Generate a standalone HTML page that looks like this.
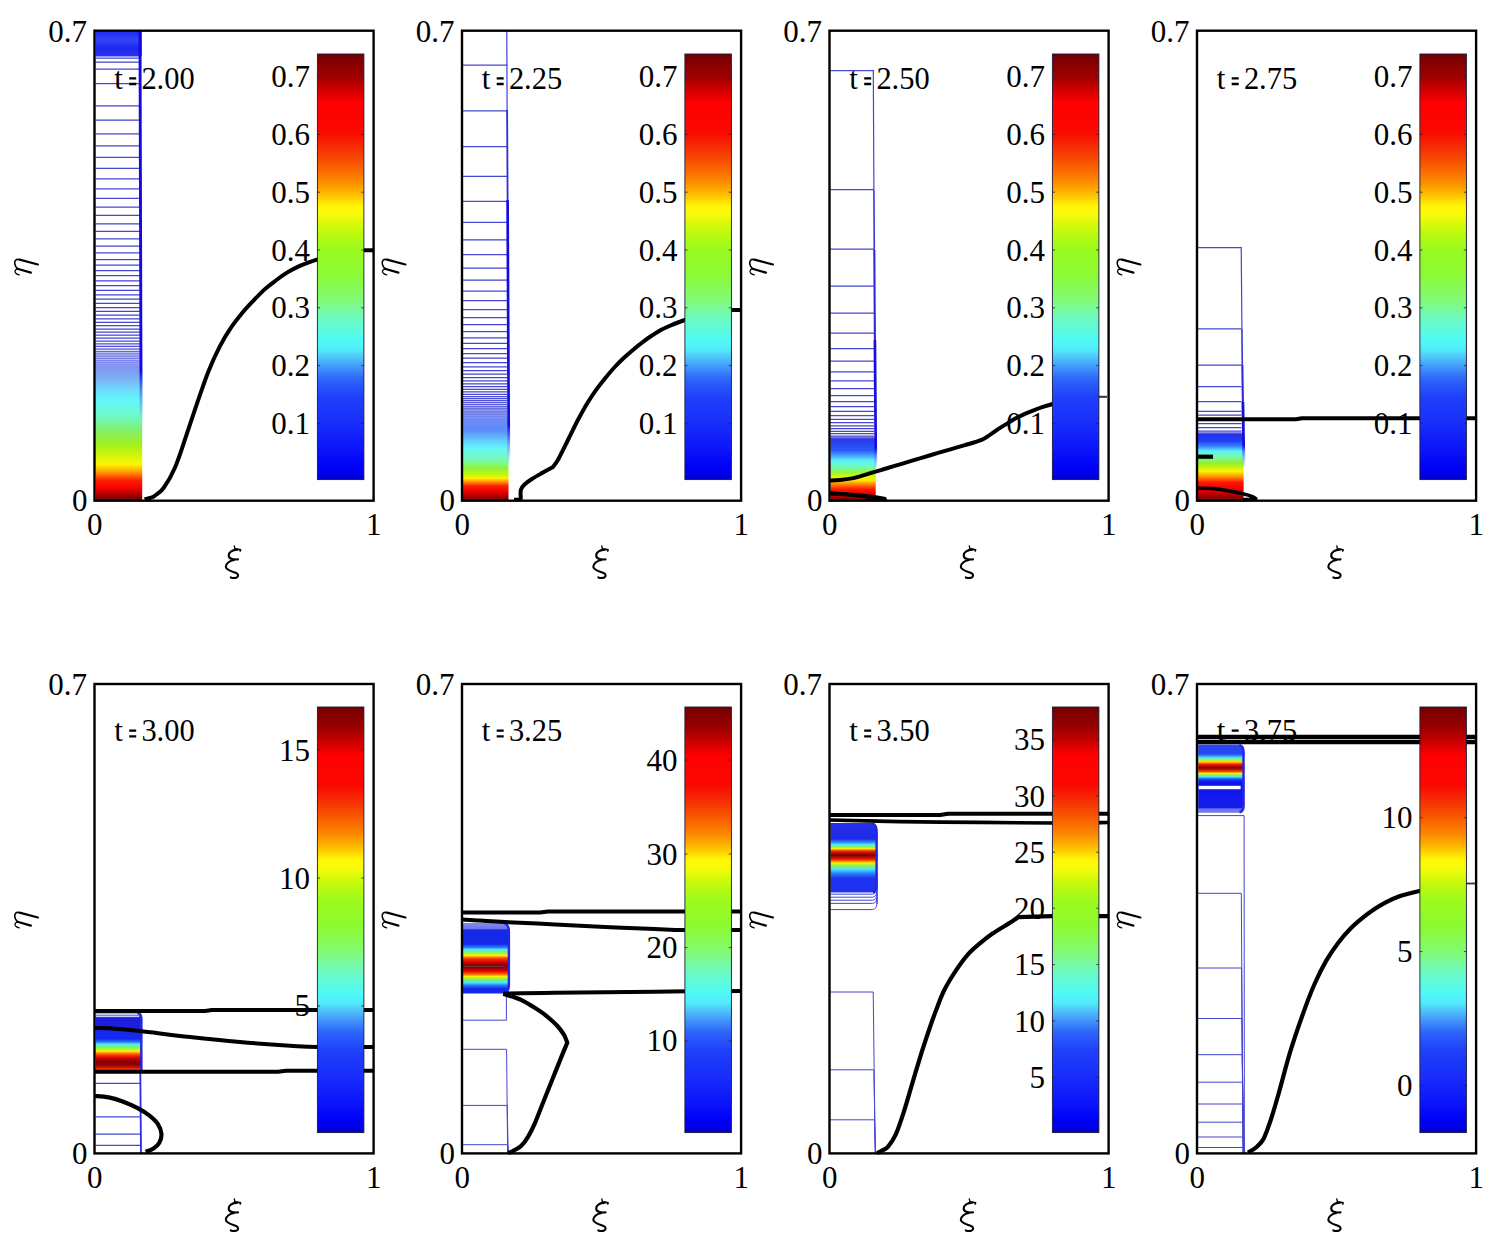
<!DOCTYPE html>
<html><head><meta charset="utf-8"><title>figure</title>
<style>
html,body{margin:0;padding:0;background:#fff;}
body{width:1498px;height:1248px;overflow:hidden;}
svg{display:block;font-family:"Liberation Serif",serif;fill:#000;}
</style></head><body>
<svg width="1498" height="1248" viewBox="0 0 1498 1248">
<defs>
<linearGradient id="cb" x1="0" y1="1" x2="0" y2="0"><stop offset="0.000" stop-color="#0000be"/><stop offset="0.012" stop-color="#0000eb"/><stop offset="0.028" stop-color="#0000f6"/><stop offset="0.069" stop-color="#0a14fa"/><stop offset="0.131" stop-color="#192dfa"/><stop offset="0.194" stop-color="#1e41fa"/><stop offset="0.235" stop-color="#2d64fa"/><stop offset="0.264" stop-color="#4196fa"/><stop offset="0.289" stop-color="#50c8fa"/><stop offset="0.305" stop-color="#50ebfa"/><stop offset="0.330" stop-color="#50faf5"/><stop offset="0.380" stop-color="#6efabe"/><stop offset="0.422" stop-color="#82fa78"/><stop offset="0.483" stop-color="#8cfa32"/><stop offset="0.542" stop-color="#9bfa1e"/><stop offset="0.575" stop-color="#b9fa0f"/><stop offset="0.600" stop-color="#d7fa0a"/><stop offset="0.625" stop-color="#fafa0a"/><stop offset="0.642" stop-color="#fff505"/><stop offset="0.670" stop-color="#fdbe00"/><stop offset="0.699" stop-color="#fc8c00"/><stop offset="0.740" stop-color="#f85a00"/><stop offset="0.777" stop-color="#f53205"/><stop offset="0.814" stop-color="#fa0a00"/><stop offset="0.885" stop-color="#ff0000"/><stop offset="0.914" stop-color="#d20000"/><stop offset="0.947" stop-color="#a00000"/><stop offset="1.000" stop-color="#730000"/></linearGradient>
<linearGradient id="g1" gradientUnits="userSpaceOnUse" x1="0" y1="31.00" x2="0" y2="56.00"><stop offset="0.0000" stop-color="#1e28eb"/><stop offset="0.3600" stop-color="#3246f5"/><stop offset="0.6800" stop-color="#1e28ee"/><stop offset="1.0000" stop-color="#2832eb"/></linearGradient>
<linearGradient id="g2" gradientUnits="userSpaceOnUse" x1="0" y1="344.00" x2="0" y2="500.00"><stop offset="0.0000" stop-color="#a0aaf5" stop-opacity="0.00"/><stop offset="0.0769" stop-color="#96a0f3" stop-opacity="0.55"/><stop offset="0.1538" stop-color="#8296f0"/><stop offset="0.2308" stop-color="#78b4f5"/><stop offset="0.2949" stop-color="#6edcfa"/><stop offset="0.3590" stop-color="#64f5fa"/><stop offset="0.4615" stop-color="#6efac8"/><stop offset="0.5513" stop-color="#82f06e"/><stop offset="0.6410" stop-color="#a0f01e"/><stop offset="0.7179" stop-color="#d2f50a"/><stop offset="0.7718" stop-color="#fff500"/><stop offset="0.8231" stop-color="#ff9600"/><stop offset="0.8744" stop-color="#ff1e00"/><stop offset="0.9263" stop-color="#f00000"/><stop offset="0.9776" stop-color="#960000"/><stop offset="1.0000" stop-color="#6e0000"/></linearGradient>
<linearGradient id="g3" gradientUnits="userSpaceOnUse" x1="0" y1="31.00" x2="0" y2="420.00"><stop offset="0.0000" stop-color="#1608de"/><stop offset="0.8715" stop-color="#1608de"/><stop offset="0.9357" stop-color="#3c78f5" stop-opacity="0.60"/><stop offset="1.0000" stop-color="#3c78f5" stop-opacity="0.00"/></linearGradient>
<linearGradient id="g4" gradientUnits="userSpaceOnUse" x1="0" y1="398.00" x2="0" y2="500.00"><stop offset="0.0000" stop-color="#a0aaf5" stop-opacity="0.00"/><stop offset="0.1176" stop-color="#8c9bf3" stop-opacity="0.55"/><stop offset="0.2157" stop-color="#6e8cf5"/><stop offset="0.3137" stop-color="#5a8cfa"/><stop offset="0.4118" stop-color="#64c8fa"/><stop offset="0.4902" stop-color="#64f5fa"/><stop offset="0.6078" stop-color="#78fab4"/><stop offset="0.6863" stop-color="#8cf53c"/><stop offset="0.7549" stop-color="#c8f50a"/><stop offset="0.7882" stop-color="#fff000"/><stop offset="0.8235" stop-color="#ff8c00"/><stop offset="0.8627" stop-color="#ff1e00"/><stop offset="0.9216" stop-color="#e60000"/><stop offset="0.9853" stop-color="#8c0000"/><stop offset="1.0000" stop-color="#780000"/></linearGradient>
<linearGradient id="g5" gradientUnits="userSpaceOnUse" x1="0" y1="200.00" x2="0" y2="465.00"><stop offset="0.0000" stop-color="#160cde"/><stop offset="0.8491" stop-color="#160cde"/><stop offset="0.9245" stop-color="#3c78f5" stop-opacity="0.60"/><stop offset="1.0000" stop-color="#3ca0f5" stop-opacity="0.00"/></linearGradient>
<linearGradient id="g6" gradientUnits="userSpaceOnUse" x1="0" y1="436.00" x2="0" y2="500.00"><stop offset="0.0000" stop-color="#2832ec" stop-opacity="0.00"/><stop offset="0.0469" stop-color="#2837ee"/><stop offset="0.2250" stop-color="#285afa"/><stop offset="0.3031" stop-color="#46a0fa"/><stop offset="0.3812" stop-color="#5af0fa"/><stop offset="0.4750" stop-color="#6efabe"/><stop offset="0.5687" stop-color="#96f53c"/><stop offset="0.6469" stop-color="#e6f500"/><stop offset="0.6937" stop-color="#ffe600"/><stop offset="0.7562" stop-color="#ff8200"/><stop offset="0.8344" stop-color="#ff1400"/><stop offset="0.9125" stop-color="#dc0000"/><stop offset="0.9766" stop-color="#8c0000"/><stop offset="1.0000" stop-color="#780000"/></linearGradient>
<linearGradient id="g7" gradientUnits="userSpaceOnUse" x1="0" y1="340.00" x2="0" y2="470.00"><stop offset="0.0000" stop-color="#160cde"/><stop offset="0.8308" stop-color="#160cde"/><stop offset="0.9077" stop-color="#3c78f5" stop-opacity="0.60"/><stop offset="1.0000" stop-color="#3ca0f5" stop-opacity="0.00"/></linearGradient>
<linearGradient id="g8" gradientUnits="userSpaceOnUse" x1="0" y1="432.00" x2="0" y2="500.00"><stop offset="0.0000" stop-color="#2832eb" stop-opacity="0.00"/><stop offset="0.0338" stop-color="#2832eb"/><stop offset="0.1324" stop-color="#1e3cfa"/><stop offset="0.2147" stop-color="#3c8cfa"/><stop offset="0.2794" stop-color="#5af0fa"/><stop offset="0.3632" stop-color="#78faaa"/><stop offset="0.4632" stop-color="#96f028"/><stop offset="0.5779" stop-color="#faf500"/><stop offset="0.6618" stop-color="#ff8c00"/><stop offset="0.7441" stop-color="#ff1400"/><stop offset="0.8588" stop-color="#e60000"/><stop offset="0.9750" stop-color="#8c0000"/><stop offset="1.0000" stop-color="#780000"/></linearGradient>
<linearGradient id="g9" gradientUnits="userSpaceOnUse" x1="0" y1="402.00" x2="0" y2="468.00"><stop offset="0.0000" stop-color="#160cde"/><stop offset="0.6515" stop-color="#160cde"/><stop offset="0.8030" stop-color="#3c78f5" stop-opacity="0.60"/><stop offset="1.0000" stop-color="#3ca0f5" stop-opacity="0.00"/></linearGradient>
<linearGradient id="g10" gradientUnits="userSpaceOnUse" x1="0" y1="1012.50" x2="0" y2="1070.50"><stop offset="0.0000" stop-color="#96a0f5"/><stop offset="0.0603" stop-color="#7882f0"/><stop offset="0.0862" stop-color="#1e1ede"/><stop offset="0.2586" stop-color="#1e1ee1"/><stop offset="0.3328" stop-color="#1428f0"/><stop offset="0.4569" stop-color="#1428f2"/><stop offset="0.5086" stop-color="#2878fa"/><stop offset="0.5431" stop-color="#50e6fa"/><stop offset="0.6069" stop-color="#82f550"/><stop offset="0.6690" stop-color="#fff000"/><stop offset="0.7190" stop-color="#ff5000"/><stop offset="0.7810" stop-color="#dc0000"/><stop offset="0.8552" stop-color="#7d0000"/><stop offset="0.9052" stop-color="#960000"/><stop offset="0.9552" stop-color="#e11400"/><stop offset="1.0000" stop-color="#fa5a00"/></linearGradient>
<linearGradient id="g11" gradientUnits="userSpaceOnUse" x1="0" y1="923.00" x2="0" y2="993.50"><stop offset="0.0000" stop-color="#828ceb"/><stop offset="0.0780" stop-color="#6e78eb"/><stop offset="0.0993" stop-color="#1428e6"/><stop offset="0.2979" stop-color="#1428e8"/><stop offset="0.3475" stop-color="#2882fa"/><stop offset="0.3759" stop-color="#50e6fa"/><stop offset="0.4227" stop-color="#8cf550"/><stop offset="0.4610" stop-color="#fff000"/><stop offset="0.5021" stop-color="#ff3c00"/><stop offset="0.5504" stop-color="#dc0000"/><stop offset="0.6142" stop-color="#690000"/><stop offset="0.6780" stop-color="#dc0000"/><stop offset="0.7262" stop-color="#ff6400"/><stop offset="0.7574" stop-color="#faf000"/><stop offset="0.7986" stop-color="#82f550"/><stop offset="0.8440" stop-color="#50e6fa"/><stop offset="0.8851" stop-color="#2878fa"/><stop offset="0.9319" stop-color="#1428eb"/><stop offset="1.0000" stop-color="#1428eb"/></linearGradient>
<linearGradient id="g12" gradientUnits="userSpaceOnUse" x1="0" y1="823.00" x2="0" y2="893.00"><stop offset="0.0000" stop-color="#2832eb"/><stop offset="0.2257" stop-color="#1e28e8"/><stop offset="0.2714" stop-color="#2882fa"/><stop offset="0.3071" stop-color="#50e6fa"/><stop offset="0.3429" stop-color="#8cf550"/><stop offset="0.3671" stop-color="#fff000"/><stop offset="0.4000" stop-color="#fa1e00"/><stop offset="0.4600" stop-color="#730000"/><stop offset="0.5214" stop-color="#fa1e00"/><stop offset="0.5714" stop-color="#fff000"/><stop offset="0.6100" stop-color="#82f550"/><stop offset="0.6571" stop-color="#50e6fa"/><stop offset="0.7257" stop-color="#2878fa"/><stop offset="0.7914" stop-color="#1e32f0"/><stop offset="0.9857" stop-color="#1e32f0"/><stop offset="1.0000" stop-color="#3c46f0" stop-opacity="0.00"/></linearGradient>
<linearGradient id="g13" gradientUnits="userSpaceOnUse" x1="0" y1="744.50" x2="0" y2="812.80"><stop offset="0.0000" stop-color="#3c50f0"/><stop offset="0.0220" stop-color="#2846f0"/><stop offset="0.1362" stop-color="#2846f2"/><stop offset="0.1684" stop-color="#3296fa"/><stop offset="0.1947" stop-color="#50ebfa"/><stop offset="0.2269" stop-color="#aaf532"/><stop offset="0.2518" stop-color="#ffdc00"/><stop offset="0.2928" stop-color="#f51400"/><stop offset="0.3411" stop-color="#7d0000"/><stop offset="0.3909" stop-color="#fa3200"/><stop offset="0.4246" stop-color="#fff000"/><stop offset="0.4466" stop-color="#82f550"/><stop offset="0.4729" stop-color="#50e6fa"/><stop offset="0.5051" stop-color="#1e50fa"/><stop offset="0.5476" stop-color="#0a14f0"/><stop offset="0.9253" stop-color="#141eeb"/><stop offset="0.9444" stop-color="#6e78f0"/><stop offset="1.0000" stop-color="#6e78f0"/></linearGradient>
</defs>
<rect width="1498" height="1248" fill="#fff"/>
<rect x="95.5" y="31" width="46.3" height="25.5" fill="url(#g1)"/>
<path d="M95.5 58.0H141.0M95.5 62.0H141.0M95.5 69.0H141.0M95.5 83.7H141.0M95.5 105.8H141.0M95.5 120.2H141.0M95.5 133.8H141.0M95.5 145.8H141.0M95.5 157.3H141.0M95.5 168.3H141.0M95.5 178.9H141.0M95.5 188.9H141.0M95.5 198.3H141.0M95.5 207.0H141.0M95.5 215.4H141.0M95.5 223.8H141.0M95.5 231.4H141.0M95.5 238.8H141.0M95.5 246.0H141.0M95.5 252.9H141.0M95.5 259.5H141.0M95.5 265.1H141.0M95.5 270.5H141.0M95.5 275.7H141.0M95.5 280.8H141.0M95.5 285.6H141.0M95.5 290.3H141.0M95.5 294.8H141.0M95.5 299.2H141.0M95.5 303.4H141.0M95.5 307.5H141.0M95.5 311.4H141.0M95.5 315.2H141.0M95.5 318.8H141.0M95.5 322.3H141.0M95.5 325.7H141.0M95.5 329.0H141.0M95.5 332.2H141.0M95.5 335.2H141.0M95.5 338.2H141.0M95.5 341.0H141.0M95.5 343.8H141.0M95.5 346.4H141.0M95.5 349.0H141.0M95.5 351.5H141.0M95.5 353.8H141.0M95.5 356.1H141.0M95.5 358.4H141.0M95.5 360.5H141.0M95.5 362.6H141.0M95.5 364.6H141.0M95.5 366.5H141.0" stroke="#4646d4" stroke-width="1.25" fill="none"/>
<rect x="95.5" y="344" width="46.7" height="156" fill="url(#g2)"/>
<path d="M140.0 31L141.1 420" stroke="url(#g3)" stroke-width="2.9" fill="none"/>
<path d="M144.5 499.3 C145.4 499.1 148.3 498.6 150.0 498.0 C151.7 497.4 152.4 497.5 154.7 495.8 C157.0 494.1 160.2 492.7 163.6 488.0 C167.0 483.3 171.2 476.4 174.9 467.8 C178.6 459.2 182.3 447.2 186.0 436.4 C189.7 425.5 193.6 413.5 197.3 402.7 C201.1 391.9 204.8 380.6 208.5 371.3 C212.2 362.0 215.9 353.9 219.7 346.6 C223.4 339.3 227.2 333.2 231.0 327.6 C234.8 322.0 238.5 317.5 242.2 313.0 C245.9 308.5 249.7 304.6 253.4 300.7 C257.1 296.8 260.9 292.8 264.6 289.4 C268.3 286.0 272.1 283.3 275.8 280.5 C279.5 277.7 283.3 274.9 287.0 272.6 C290.7 270.3 294.4 268.4 298.2 266.6 C301.9 264.9 305.9 263.4 309.5 262.1 C313.1 260.8 315.8 259.9 320.0 258.6 C324.2 257.3 330.0 255.7 335.0 254.5 C340.0 253.3 345.3 252.3 350.0 251.6 C354.7 250.9 359.1 250.5 363.0 250.3 C366.9 250.1 371.8 250.2 373.5 250.2" stroke="#000" stroke-width="4.00" fill="none" stroke-linejoin="round" stroke-linecap="butt" />
<text x="114.3" y="88.7" font-size="31.0" text-anchor="start"  >t</text>
<path d="M129.2 78.3h7M129.2 84.0h7" stroke="#000" stroke-width="2.3"/>
<text x="141.4" y="88.7" font-size="31.0" text-anchor="start"  textLength="53.3" lengthAdjust="spacingAndGlyphs">2.00</text>
<rect x="317.4" y="54.0" width="46.5" height="425.6" fill="url(#cb)" stroke="#1a1a3a" stroke-width="0.9"/>
<text x="310.1" y="87.1" font-size="31.0" text-anchor="end"  >0.7</text>
<path d="M317.4 76.6h2.6M363.9 76.6h-2.6" stroke="#222" stroke-width="0.8"/>
<text x="310.1" y="144.9" font-size="31.0" text-anchor="end"  >0.6</text>
<path d="M317.4 134.4h2.6M363.9 134.4h-2.6" stroke="#222" stroke-width="0.8"/>
<text x="310.1" y="202.7" font-size="31.0" text-anchor="end"  >0.5</text>
<path d="M317.4 192.2h2.6M363.9 192.2h-2.6" stroke="#222" stroke-width="0.8"/>
<text x="310.1" y="260.5" font-size="31.0" text-anchor="end"  >0.4</text>
<path d="M317.4 250.0h2.6M363.9 250.0h-2.6" stroke="#222" stroke-width="0.8"/>
<text x="310.1" y="318.3" font-size="31.0" text-anchor="end"  >0.3</text>
<path d="M317.4 307.8h2.6M363.9 307.8h-2.6" stroke="#222" stroke-width="0.8"/>
<text x="310.1" y="376.1" font-size="31.0" text-anchor="end"  >0.2</text>
<path d="M317.4 365.6h2.6M363.9 365.6h-2.6" stroke="#222" stroke-width="0.8"/>
<text x="310.1" y="433.9" font-size="31.0" text-anchor="end"  >0.1</text>
<path d="M317.4 423.4h2.6M363.9 423.4h-2.6" stroke="#222" stroke-width="0.8"/>
<rect x="94.5" y="30.7" width="279.1" height="470.0" fill="none" stroke="#000" stroke-width="2.4"/>
<text x="87.0" y="42.1" font-size="31.0" text-anchor="end"  >0.7</text>
<text x="87.6" y="511.2" font-size="31.0" text-anchor="end"  >0</text>
<text x="94.8" y="535.0" font-size="31.0" text-anchor="middle"  >0</text>
<text x="373.8" y="535.0" font-size="31.0" text-anchor="middle"  >1</text>
<g transform="translate(0.0 0.0)" fill="none" stroke="#000" stroke-linecap="round" stroke-linejoin="round"><path d="M234.3 546.0L235.0 549.0" stroke-width="1.3"/><path d="M235.0 549.2C237 549.0 239 549.3 240.6 549.8L240.2 550.9" stroke-width="1.7"/><path d="M237.4 549.6C232.5 549.8 228.6 552.2 228.7 555.6C228.8 558.6 232.5 559.9 238.0 559.4" stroke-width="2.1"/><path d="M234.0 560.0C229.5 560.8 225.7 563.6 225.8 566.8C226.0 570.2 231.5 571.3 235.6 572.8C238.6 574.0 238.9 576.4 236.6 577.5C234.8 578.3 232.4 578.0 230.8 577.4" stroke-width="2.1"/></g>
<g transform="translate(0.0 0.0)" fill="none" stroke="#000" stroke-linecap="round" stroke-linejoin="round"><path d="M37.9 264.5L19.6 259.65" stroke-width="2.2"/><path d="M19.6 259.65C15.8 258.6 14.3 260.8 14.8 263.8C15.2 266.3 16.4 268.0 17.8 268.9" stroke-width="1.6"/><path d="M17.4 268.8L30.9 272.6" stroke-width="2.2"/><path d="M17.4 268.8C15.2 269.4 14.4 271.3 15.5 272.9C16.4 274.0 17.8 274.6 19.2 274.9" stroke-width="1.3"/></g>
<path d="M463.0 65.0H507.5M463.0 110.8H507.5M463.0 146.6H507.5M463.0 176.3H507.5M463.0 201.4H507.5M463.0 222.4H507.5M463.0 239.8H507.5M463.0 254.5H507.5M463.0 268.0H507.5M463.0 280.0H507.5M463.0 291.0H507.5M463.0 300.7H507.5M463.0 309.5H507.5M463.0 317.5H507.5M463.0 324.7H507.5M463.0 331.5H507.5M463.0 337.8H507.5M463.0 343.4H507.5M463.0 348.6H507.5M463.0 353.6H507.5M463.0 358.2H507.5M463.0 362.6H507.5M463.0 366.8H507.5M463.0 370.6H507.5M463.0 374.2H507.5M463.0 377.6H507.5M463.0 380.8H507.5M463.0 383.8H507.5M463.0 386.7H507.5M463.0 389.3H507.5M463.0 391.9H507.5M463.0 394.3H507.5M463.0 396.5H507.5M463.0 398.7H507.5M463.0 400.7H507.5M463.0 402.7H507.5M463.0 404.7H507.5M463.0 406.5H507.5M463.0 408.3H507.5M463.0 409.9H507.5M463.0 411.5H507.5M463.0 413.1H507.5M463.0 414.7H507.5M463.0 416.3H507.5M463.0 418.1H507.5M463.0 419.9H507.5M463.0 421.7H507.5M463.0 423.5H507.5M463.0 425.3H507.5" stroke="#4646d4" stroke-width="1.25" fill="none"/>
<rect x="463.0" y="398" width="45.5" height="102" fill="url(#g4)"/>
<path d="M506.8 31L507.1 110" stroke="#4040dc" stroke-width="1.2" fill="none"/>
<path d="M507.1 110L507.6 200" stroke="#2c2cdc" stroke-width="1.8" fill="none"/>
<path d="M507.6 200L508.9 465" stroke="url(#g5)" stroke-width="2.7" fill="none"/>
<path d="M520.8 498.6 C520.8 497.2 520.2 492.4 520.8 490.0 C521.4 487.6 522.6 486.3 524.5 484.5 C526.4 482.7 528.8 481.0 531.9 479.0 C535.0 477.0 539.4 474.6 542.9 472.6 C546.4 470.6 551.3 467.9 553.0 467.0 C553.9 465.6 556.0 463.4 558.6 458.7 C561.2 453.9 565.5 444.9 568.7 438.5 C571.9 432.1 574.8 425.8 577.9 420.0 C581.0 414.2 584.0 408.6 587.1 403.5 C590.2 398.4 593.2 393.9 596.3 389.6 C599.4 385.3 602.5 381.5 605.6 377.7 C608.7 373.9 611.7 370.3 614.8 367.0 C617.9 363.7 620.9 360.7 624.0 357.8 C627.1 354.9 630.1 352.3 633.2 349.7 C636.3 347.1 639.3 344.6 642.4 342.3 C645.5 340.0 648.5 337.8 651.6 335.8 C654.7 333.8 657.7 331.8 660.8 330.1 C663.9 328.4 666.9 327.1 670.0 325.7 C673.1 324.3 676.0 323.2 679.3 322.0 C682.6 320.8 685.7 319.8 690.0 318.5 C694.3 317.2 700.0 315.4 705.0 314.2 C710.0 312.9 715.7 311.7 720.0 311.0 C724.3 310.3 727.5 310.2 731.0 310.0 C734.5 309.8 739.3 309.9 741.0 309.9" stroke="#000" stroke-width="4.00" fill="none" stroke-linejoin="round" stroke-linecap="butt" />
<path d="M514 499.3H522.5" stroke="#000" stroke-width="3.20" fill="none" stroke-linejoin="round" stroke-linecap="butt" />
<text x="481.8" y="88.7" font-size="31.0" text-anchor="start"  >t</text>
<path d="M496.7 78.3h7M496.7 84.0h7" stroke="#000" stroke-width="2.3"/>
<text x="508.9" y="88.7" font-size="31.0" text-anchor="start"  textLength="53.3" lengthAdjust="spacingAndGlyphs">2.25</text>
<rect x="684.9" y="54.0" width="46.5" height="425.6" fill="url(#cb)" stroke="#1a1a3a" stroke-width="0.9"/>
<text x="677.6" y="87.1" font-size="31.0" text-anchor="end"  >0.7</text>
<path d="M684.9 76.6h2.6M731.4 76.6h-2.6" stroke="#222" stroke-width="0.8"/>
<text x="677.6" y="144.9" font-size="31.0" text-anchor="end"  >0.6</text>
<path d="M684.9 134.4h2.6M731.4 134.4h-2.6" stroke="#222" stroke-width="0.8"/>
<text x="677.6" y="202.7" font-size="31.0" text-anchor="end"  >0.5</text>
<path d="M684.9 192.2h2.6M731.4 192.2h-2.6" stroke="#222" stroke-width="0.8"/>
<text x="677.6" y="260.5" font-size="31.0" text-anchor="end"  >0.4</text>
<path d="M684.9 250.0h2.6M731.4 250.0h-2.6" stroke="#222" stroke-width="0.8"/>
<text x="677.6" y="318.3" font-size="31.0" text-anchor="end"  >0.3</text>
<path d="M684.9 307.8h2.6M731.4 307.8h-2.6" stroke="#222" stroke-width="0.8"/>
<text x="677.6" y="376.1" font-size="31.0" text-anchor="end"  >0.2</text>
<path d="M684.9 365.6h2.6M731.4 365.6h-2.6" stroke="#222" stroke-width="0.8"/>
<text x="677.6" y="433.9" font-size="31.0" text-anchor="end"  >0.1</text>
<path d="M684.9 423.4h2.6M731.4 423.4h-2.6" stroke="#222" stroke-width="0.8"/>
<rect x="462.0" y="30.7" width="279.1" height="470.0" fill="none" stroke="#000" stroke-width="2.4"/>
<text x="454.5" y="42.1" font-size="31.0" text-anchor="end"  >0.7</text>
<text x="455.1" y="511.2" font-size="31.0" text-anchor="end"  >0</text>
<text x="462.3" y="535.0" font-size="31.0" text-anchor="middle"  >0</text>
<text x="741.3" y="535.0" font-size="31.0" text-anchor="middle"  >1</text>
<g transform="translate(367.5 0.0)" fill="none" stroke="#000" stroke-linecap="round" stroke-linejoin="round"><path d="M234.3 546.0L235.0 549.0" stroke-width="1.3"/><path d="M235.0 549.2C237 549.0 239 549.3 240.6 549.8L240.2 550.9" stroke-width="1.7"/><path d="M237.4 549.6C232.5 549.8 228.6 552.2 228.7 555.6C228.8 558.6 232.5 559.9 238.0 559.4" stroke-width="2.1"/><path d="M234.0 560.0C229.5 560.8 225.7 563.6 225.8 566.8C226.0 570.2 231.5 571.3 235.6 572.8C238.6 574.0 238.9 576.4 236.6 577.5C234.8 578.3 232.4 578.0 230.8 577.4" stroke-width="2.1"/></g>
<g transform="translate(367.5 0.0)" fill="none" stroke="#000" stroke-linecap="round" stroke-linejoin="round"><path d="M37.9 264.5L19.6 259.65" stroke-width="2.2"/><path d="M19.6 259.65C15.8 258.6 14.3 260.8 14.8 263.8C15.2 266.3 16.4 268.0 17.8 268.9" stroke-width="1.6"/><path d="M17.4 268.8L30.9 272.6" stroke-width="2.2"/><path d="M17.4 268.8C15.2 269.4 14.4 271.3 15.5 272.9C16.4 274.0 17.8 274.6 19.2 274.9" stroke-width="1.3"/></g>
<rect x="830.5" y="436" width="45.2" height="64" fill="url(#g6)"/>
<path d="M830.5 70.7H874.0M830.5 189.7H874.0M830.5 249.0H874.0M830.5 286.0H874.0M830.5 313.1H874.0M830.5 333.1H874.0M830.5 348.6H874.0M830.5 361.2H874.0M830.5 371.8H874.0M830.5 380.8H874.0M830.5 388.7H874.0M830.5 395.5H874.0M830.5 401.5H874.0M830.5 406.7H874.0M830.5 411.3H874.0M830.5 415.5H874.0M830.5 419.3H874.0M830.5 422.7H874.0M830.5 425.9H874.0M830.5 428.7H874.0M830.5 431.3H874.0M830.5 433.7H874.0M830.5 436.0H874.0M830.5 438.0H874.0" stroke="#4646d4" stroke-width="1.25" fill="none"/>
<path d="M873.3 70.2L873.9 190" stroke="#4646d4" stroke-width="1.2" fill="none"/>
<path d="M873.9 190L874.3 250" stroke="#3838d8" stroke-width="1.6" fill="none"/>
<path d="M874.3 250L874.9 340" stroke="#2a2adc" stroke-width="2.1" fill="none"/>
<path d="M874.9 340L875.9 470" stroke="url(#g7)" stroke-width="2.7" fill="none"/>
<path d="M829.5 480.6 C831.2 480.5 836.2 480.4 840.0 480.0 C843.8 479.6 848.7 479.0 852.0 478.4 C855.3 477.8 855.8 477.5 860.0 476.3 C864.2 475.1 871.6 472.8 877.4 471.1 C883.2 469.4 888.9 467.6 894.7 465.9 C900.5 464.2 906.3 462.4 912.1 460.7 C917.9 459.0 923.6 457.2 929.4 455.5 C935.2 453.8 941.0 452.0 946.8 450.3 C952.6 448.6 958.3 447.1 964.1 445.4 C969.9 443.6 977.1 441.6 981.5 439.8 C985.9 438.0 987.3 436.5 990.2 434.6 C993.1 432.7 996.0 430.5 998.9 428.6 C1001.8 426.7 1004.6 425.1 1007.5 423.4 C1010.4 421.6 1013.3 419.7 1016.2 418.1 C1019.1 416.5 1022.0 415.1 1024.9 413.8 C1027.8 412.5 1030.7 411.4 1033.6 410.3 C1036.5 409.2 1039.2 408.2 1042.2 407.2 C1045.2 406.2 1047.2 405.5 1051.8 404.3 C1056.4 403.1 1064.5 401.1 1070.0 400.0 C1075.5 398.9 1080.2 398.1 1085.0 397.6 C1089.8 397.1 1096.4 396.9 1098.7 396.8" stroke="#000" stroke-width="4.00" fill="none" stroke-linejoin="round" stroke-linecap="butt" />
<path d="M1098 396.8H1107" stroke="#333" stroke-width="2.00" fill="none" stroke-linejoin="round" stroke-linecap="butt" />
<path d="M829.5 493.4 C831.2 493.5 836.2 493.8 840.0 494.0 C843.8 494.2 846.7 494.4 852.0 494.9 C857.3 495.4 866.3 496.2 872.0 496.9 C877.7 497.6 883.7 498.8 886.0 499.2" stroke="#000" stroke-width="4.20" fill="none" stroke-linejoin="round" stroke-linecap="butt" />
<path d="M866 499.6H887" stroke="#000" stroke-width="2.50" fill="none" stroke-linejoin="round" stroke-linecap="butt" />
<text x="849.3" y="88.7" font-size="31.0" text-anchor="start"  >t</text>
<path d="M864.2 78.3h7M864.2 84.0h7" stroke="#000" stroke-width="2.3"/>
<text x="876.4" y="88.7" font-size="31.0" text-anchor="start"  textLength="53.3" lengthAdjust="spacingAndGlyphs">2.50</text>
<rect x="1052.4" y="54.0" width="46.5" height="425.6" fill="url(#cb)" stroke="#1a1a3a" stroke-width="0.9"/>
<text x="1045.1" y="87.1" font-size="31.0" text-anchor="end"  >0.7</text>
<path d="M1052.4 76.6h2.6M1098.9 76.6h-2.6" stroke="#222" stroke-width="0.8"/>
<text x="1045.1" y="144.9" font-size="31.0" text-anchor="end"  >0.6</text>
<path d="M1052.4 134.4h2.6M1098.9 134.4h-2.6" stroke="#222" stroke-width="0.8"/>
<text x="1045.1" y="202.7" font-size="31.0" text-anchor="end"  >0.5</text>
<path d="M1052.4 192.2h2.6M1098.9 192.2h-2.6" stroke="#222" stroke-width="0.8"/>
<text x="1045.1" y="260.5" font-size="31.0" text-anchor="end"  >0.4</text>
<path d="M1052.4 250.0h2.6M1098.9 250.0h-2.6" stroke="#222" stroke-width="0.8"/>
<text x="1045.1" y="318.3" font-size="31.0" text-anchor="end"  >0.3</text>
<path d="M1052.4 307.8h2.6M1098.9 307.8h-2.6" stroke="#222" stroke-width="0.8"/>
<text x="1045.1" y="376.1" font-size="31.0" text-anchor="end"  >0.2</text>
<path d="M1052.4 365.6h2.6M1098.9 365.6h-2.6" stroke="#222" stroke-width="0.8"/>
<text x="1045.1" y="433.9" font-size="31.0" text-anchor="end"  >0.1</text>
<path d="M1052.4 423.4h2.6M1098.9 423.4h-2.6" stroke="#222" stroke-width="0.8"/>
<rect x="829.5" y="30.7" width="279.1" height="470.0" fill="none" stroke="#000" stroke-width="2.4"/>
<text x="822.0" y="42.1" font-size="31.0" text-anchor="end"  >0.7</text>
<text x="822.6" y="511.2" font-size="31.0" text-anchor="end"  >0</text>
<text x="829.8" y="535.0" font-size="31.0" text-anchor="middle"  >0</text>
<text x="1108.8" y="535.0" font-size="31.0" text-anchor="middle"  >1</text>
<g transform="translate(735.0 0.0)" fill="none" stroke="#000" stroke-linecap="round" stroke-linejoin="round"><path d="M234.3 546.0L235.0 549.0" stroke-width="1.3"/><path d="M235.0 549.2C237 549.0 239 549.3 240.6 549.8L240.2 550.9" stroke-width="1.7"/><path d="M237.4 549.6C232.5 549.8 228.6 552.2 228.7 555.6C228.8 558.6 232.5 559.9 238.0 559.4" stroke-width="2.1"/><path d="M234.0 560.0C229.5 560.8 225.7 563.6 225.8 566.8C226.0 570.2 231.5 571.3 235.6 572.8C238.6 574.0 238.9 576.4 236.6 577.5C234.8 578.3 232.4 578.0 230.8 577.4" stroke-width="2.1"/></g>
<g transform="translate(735.0 0.0)" fill="none" stroke="#000" stroke-linecap="round" stroke-linejoin="round"><path d="M37.9 264.5L19.6 259.65" stroke-width="2.2"/><path d="M19.6 259.65C15.8 258.6 14.3 260.8 14.8 263.8C15.2 266.3 16.4 268.0 17.8 268.9" stroke-width="1.6"/><path d="M17.4 268.8L30.9 272.6" stroke-width="2.2"/><path d="M17.4 268.8C15.2 269.4 14.4 271.3 15.5 272.9C16.4 274.0 17.8 274.6 19.2 274.9" stroke-width="1.3"/></g>
<rect x="1198.0" y="432" width="45.6" height="68" fill="url(#g8)"/>
<path d="M1198.0 247.5H1241.5M1198.0 328.8H1241.5M1198.0 365.1H1241.5M1198.0 386.5H1241.5M1198.0 401.7H1241.5M1198.0 411.4H1241.5M1198.0 415.2H1241.5M1198.0 423.5H1241.5M1198.0 427.6H1241.5M1198.0 431.0H1241.5M1198.0 433.0H1241.5" stroke="#4646d4" stroke-width="1.25" fill="none"/>
<path d="M1241.2 247L1241.9 329" stroke="#4646d4" stroke-width="1.2" fill="none"/>
<path d="M1241.9 329L1242.3 365" stroke="#3838d8" stroke-width="1.6" fill="none"/>
<path d="M1242.3 365L1242.9 402" stroke="#2a2adc" stroke-width="2.1" fill="none"/>
<path d="M1242.9 402L1244.0 468" stroke="url(#g9)" stroke-width="2.8" fill="none"/>
<path d="M1197 419.2H1296L1302 418.2H1476.5" stroke="#000" stroke-width="4.00" fill="none" stroke-linejoin="round" stroke-linecap="butt" />
<path d="M1197 456.7H1213" stroke="#000" stroke-width="4.20" fill="none" stroke-linejoin="round" stroke-linecap="butt" stroke-linecap="round"/>
<path d="M1197.0 488.2 C1199.8 488.3 1208.3 488.2 1213.7 488.6 C1219.1 489.1 1224.5 490.0 1229.4 490.9 C1234.3 491.8 1239.2 492.9 1242.9 493.8 C1246.6 494.7 1249.7 495.6 1251.8 496.4 C1253.9 497.2 1255.1 498.2 1255.8 498.6 L1243 499.6" stroke="#000" stroke-width="3.60" fill="none" stroke-linejoin="round" stroke-linecap="butt" />
<text x="1216.8" y="88.7" font-size="31.0" text-anchor="start"  >t</text>
<path d="M1231.7 78.3h7M1231.7 84.0h7" stroke="#000" stroke-width="2.3"/>
<text x="1243.9" y="88.7" font-size="31.0" text-anchor="start"  textLength="53.3" lengthAdjust="spacingAndGlyphs">2.75</text>
<rect x="1419.9" y="54.0" width="46.5" height="425.6" fill="url(#cb)" stroke="#1a1a3a" stroke-width="0.9"/>
<text x="1412.6" y="87.1" font-size="31.0" text-anchor="end"  >0.7</text>
<path d="M1419.9 76.6h2.6M1466.4 76.6h-2.6" stroke="#222" stroke-width="0.8"/>
<text x="1412.6" y="144.9" font-size="31.0" text-anchor="end"  >0.6</text>
<path d="M1419.9 134.4h2.6M1466.4 134.4h-2.6" stroke="#222" stroke-width="0.8"/>
<text x="1412.6" y="202.7" font-size="31.0" text-anchor="end"  >0.5</text>
<path d="M1419.9 192.2h2.6M1466.4 192.2h-2.6" stroke="#222" stroke-width="0.8"/>
<text x="1412.6" y="260.5" font-size="31.0" text-anchor="end"  >0.4</text>
<path d="M1419.9 250.0h2.6M1466.4 250.0h-2.6" stroke="#222" stroke-width="0.8"/>
<text x="1412.6" y="318.3" font-size="31.0" text-anchor="end"  >0.3</text>
<path d="M1419.9 307.8h2.6M1466.4 307.8h-2.6" stroke="#222" stroke-width="0.8"/>
<text x="1412.6" y="376.1" font-size="31.0" text-anchor="end"  >0.2</text>
<path d="M1419.9 365.6h2.6M1466.4 365.6h-2.6" stroke="#222" stroke-width="0.8"/>
<text x="1412.6" y="433.9" font-size="31.0" text-anchor="end"  >0.1</text>
<path d="M1419.9 423.4h2.6M1466.4 423.4h-2.6" stroke="#222" stroke-width="0.8"/>
<rect x="1197.0" y="30.7" width="279.1" height="470.0" fill="none" stroke="#000" stroke-width="2.4"/>
<text x="1189.5" y="42.1" font-size="31.0" text-anchor="end"  >0.7</text>
<text x="1190.1" y="511.2" font-size="31.0" text-anchor="end"  >0</text>
<text x="1197.3" y="535.0" font-size="31.0" text-anchor="middle"  >0</text>
<text x="1476.3" y="535.0" font-size="31.0" text-anchor="middle"  >1</text>
<g transform="translate(1102.5 0.0)" fill="none" stroke="#000" stroke-linecap="round" stroke-linejoin="round"><path d="M234.3 546.0L235.0 549.0" stroke-width="1.3"/><path d="M235.0 549.2C237 549.0 239 549.3 240.6 549.8L240.2 550.9" stroke-width="1.7"/><path d="M237.4 549.6C232.5 549.8 228.6 552.2 228.7 555.6C228.8 558.6 232.5 559.9 238.0 559.4" stroke-width="2.1"/><path d="M234.0 560.0C229.5 560.8 225.7 563.6 225.8 566.8C226.0 570.2 231.5 571.3 235.6 572.8C238.6 574.0 238.9 576.4 236.6 577.5C234.8 578.3 232.4 578.0 230.8 577.4" stroke-width="2.1"/></g>
<g transform="translate(1102.5 0.0)" fill="none" stroke="#000" stroke-linecap="round" stroke-linejoin="round"><path d="M37.9 264.5L19.6 259.65" stroke-width="2.2"/><path d="M19.6 259.65C15.8 258.6 14.3 260.8 14.8 263.8C15.2 266.3 16.4 268.0 17.8 268.9" stroke-width="1.6"/><path d="M17.4 268.8L30.9 272.6" stroke-width="2.2"/><path d="M17.4 268.8C15.2 269.4 14.4 271.3 15.5 272.9C16.4 274.0 17.8 274.6 19.2 274.9" stroke-width="1.3"/></g>
<path d="M95.5 1012.5H138Q142 1012.5 142.2 1019V1070.5H95.5Z" fill="url(#g10)"/>
<path d="M95.5 1014.2H139.0M95.5 1016.6H139.0" stroke="#e8e8ff" stroke-width="0.90" fill="none"/>
<path d="M137.5 1013.2Q141.3 1013.4 141.3 1019V1070.5" stroke="#2626e4" stroke-width="2.4" fill="none"/>
<path d="M95.5 1083.4H140.5M95.5 1116.9H140.5M95.5 1134.2H140.5M95.5 1145.4H140.5" stroke="#4646d4" stroke-width="1.25" fill="none"/>
<path d="M140.3 1071L141.0 1153" stroke="#2a2ae6" stroke-width="1.8" fill="none"/>
<path d="M94.5 1011H205L212 1010H373.5" stroke="#000" stroke-width="4.00" fill="none" stroke-linejoin="round" stroke-linecap="butt" />
<path d="M94.5 1028.0 C97.1 1028.0 102.4 1027.8 110.0 1028.3 C117.6 1028.8 126.7 1029.5 140.0 1031.0 C153.3 1032.5 173.3 1035.2 190.0 1037.0 C206.7 1038.8 223.3 1040.5 240.0 1042.0 C256.7 1043.5 277.0 1044.9 290.0 1045.7 C303.0 1046.5 304.1 1046.8 318.0 1047.0 C331.9 1047.2 364.2 1047.0 373.5 1047.0" stroke="#000" stroke-width="4.00" fill="none" stroke-linejoin="round" stroke-linecap="butt" />
<path d="M94.5 1071.7H278L286 1070.7H373.5" stroke="#000" stroke-width="4.00" fill="none" stroke-linejoin="round" stroke-linecap="butt" />
<path d="M94.5 1096.0 C96.9 1096.2 104.0 1096.5 108.8 1097.4 C113.6 1098.4 118.5 1099.9 123.3 1101.7 C128.1 1103.5 133.4 1105.9 137.7 1108.2 C142.0 1110.5 145.8 1112.8 149.2 1115.4 C152.6 1118.1 155.8 1121.0 157.9 1124.1 C160.0 1127.2 161.3 1131.1 161.5 1134.2 C161.7 1137.3 160.6 1140.4 159.3 1142.8 C158.0 1145.2 155.8 1147.1 153.5 1148.6 C151.2 1150.1 146.9 1151.3 145.6 1151.8" stroke="#000" stroke-width="4.20" fill="none" stroke-linejoin="round" stroke-linecap="butt" />
<text x="114.3" y="741.0" font-size="31.0" text-anchor="start"  >t</text>
<path d="M129.2 730.6h7M129.2 736.3h7" stroke="#000" stroke-width="2.3"/>
<text x="141.4" y="741.0" font-size="31.0" text-anchor="start"  textLength="53.3" lengthAdjust="spacingAndGlyphs">3.00</text>
<rect x="317.4" y="707.0" width="46.5" height="425.6" fill="url(#cb)" stroke="#1a1a3a" stroke-width="0.9"/>
<text x="310.1" y="760.5" font-size="31.0" text-anchor="end"  >15</text>
<path d="M317.4 750.0h2.6M363.9 750.0h-2.6" stroke="#222" stroke-width="0.8"/>
<text x="310.1" y="888.5" font-size="31.0" text-anchor="end"  >10</text>
<path d="M317.4 878.0h2.6M363.9 878.0h-2.6" stroke="#222" stroke-width="0.8"/>
<text x="310.1" y="1016.4" font-size="31.0" text-anchor="end"  >5</text>
<path d="M317.4 1005.9h2.6M363.9 1005.9h-2.6" stroke="#222" stroke-width="0.8"/>
<rect x="94.5" y="684.0" width="279.1" height="469.4" fill="none" stroke="#000" stroke-width="2.4"/>
<text x="87.0" y="694.5" font-size="31.0" text-anchor="end"  >0.7</text>
<text x="87.6" y="1163.9" font-size="31.0" text-anchor="end"  >0</text>
<text x="94.8" y="1187.6" font-size="31.0" text-anchor="middle"  >0</text>
<text x="373.8" y="1187.6" font-size="31.0" text-anchor="middle"  >1</text>
<g transform="translate(0.0 653.0)" fill="none" stroke="#000" stroke-linecap="round" stroke-linejoin="round"><path d="M234.3 546.0L235.0 549.0" stroke-width="1.3"/><path d="M235.0 549.2C237 549.0 239 549.3 240.6 549.8L240.2 550.9" stroke-width="1.7"/><path d="M237.4 549.6C232.5 549.8 228.6 552.2 228.7 555.6C228.8 558.6 232.5 559.9 238.0 559.4" stroke-width="2.1"/><path d="M234.0 560.0C229.5 560.8 225.7 563.6 225.8 566.8C226.0 570.2 231.5 571.3 235.6 572.8C238.6 574.0 238.9 576.4 236.6 577.5C234.8 578.3 232.4 578.0 230.8 577.4" stroke-width="2.1"/></g>
<g transform="translate(0.0 653.0)" fill="none" stroke="#000" stroke-linecap="round" stroke-linejoin="round"><path d="M37.9 264.5L19.6 259.65" stroke-width="2.2"/><path d="M19.6 259.65C15.8 258.6 14.3 260.8 14.8 263.8C15.2 266.3 16.4 268.0 17.8 268.9" stroke-width="1.6"/><path d="M17.4 268.8L30.9 272.6" stroke-width="2.2"/><path d="M17.4 268.8C15.2 269.4 14.4 271.3 15.5 272.9C16.4 274.0 17.8 274.6 19.2 274.9" stroke-width="1.3"/></g>
<path d="M463.0 923H505Q509.6 924 509.8 932V985Q509.6 992 505 993.5H463.0Z" fill="url(#g11)"/>
<path d="M463 966.3H506" stroke="#6b5a5a" stroke-width="0.70" fill="none" stroke-linejoin="round" stroke-linecap="butt" />
<path d="M504.5 923.6Q508.9 924.4 508.9 932V985Q508.9 992 504.5 992.9" stroke="#2626e4" stroke-width="2.4" fill="none"/>
<path d="M463 1020.2H506.4V993" stroke="#4646d4" stroke-width="1" fill="none"/>
<path d="M463 1049.3H506.6L507.6 1153" stroke="#4646d4" stroke-width="1" fill="none"/>
<path d="M463 1105.4H507.2L508.2 1153" stroke="#4646d4" stroke-width="1" fill="none"/>
<path d="M463 1144.7H507.8L508.6 1153" stroke="#4646d4" stroke-width="1" fill="none"/>
<path d="M462 912.4H540L548 911.4H741" stroke="#000" stroke-width="4.00" fill="none" stroke-linejoin="round" stroke-linecap="butt" />
<path d="M462.0 919.6 C465.0 919.8 472.8 920.2 480.0 920.6 C487.2 921.0 492.5 921.4 505.0 922.0 C517.5 922.6 538.3 923.6 555.0 924.4 C571.7 925.2 588.3 926.2 605.0 927.0 C621.7 927.8 641.6 928.5 655.0 929.0 C668.4 929.5 671.0 929.8 685.3 930.0 C699.6 930.2 731.7 930.0 741.0 930.0" stroke="#000" stroke-width="4.00" fill="none" stroke-linejoin="round" stroke-linecap="butt" />
<path d="M503.3 993.7 C511.9 993.5 529.7 993.0 555.0 992.7 C580.3 992.4 630.8 992.0 655.0 991.7 C679.2 991.5 685.7 991.3 700.0 991.2 C714.3 991.1 734.2 991.1 741.0 991.1" stroke="#000" stroke-width="4.00" fill="none" stroke-linejoin="round" stroke-linecap="butt" />
<path d="M503.3 993.7 C504.8 994.2 508.9 995.4 512.3 996.6 C515.7 997.8 519.8 999.2 523.5 1001.1 C527.2 1003.0 531.0 1005.4 534.8 1007.8 C538.5 1010.2 542.3 1012.7 546.0 1015.7 C549.7 1018.7 554.2 1022.6 557.2 1025.8 C560.2 1029.0 562.2 1031.9 563.9 1034.7 C565.6 1037.5 566.7 1041.3 567.3 1042.6 C566.4 1044.8 564.1 1050.1 561.7 1056.1 C559.3 1062.1 555.7 1071.0 552.7 1078.5 C549.7 1086.0 546.7 1093.5 543.7 1101.0 C540.7 1108.5 537.4 1117.4 534.8 1123.4 C532.2 1129.4 530.2 1133.2 528.0 1136.9 C525.8 1140.6 523.9 1143.4 521.3 1145.8 C518.7 1148.2 514.5 1150.2 512.3 1151.4 C510.1 1152.6 508.7 1152.6 508.0 1152.8" stroke="#000" stroke-width="4.20" fill="none" stroke-linejoin="round" stroke-linecap="butt" />
<text x="481.8" y="741.0" font-size="31.0" text-anchor="start"  >t</text>
<path d="M496.7 730.6h7M496.7 736.3h7" stroke="#000" stroke-width="2.3"/>
<text x="508.9" y="741.0" font-size="31.0" text-anchor="start"  textLength="53.3" lengthAdjust="spacingAndGlyphs">3.25</text>
<rect x="684.9" y="707.0" width="46.5" height="425.6" fill="url(#cb)" stroke="#1a1a3a" stroke-width="0.9"/>
<text x="677.6" y="770.5" font-size="31.0" text-anchor="end"  >40</text>
<path d="M684.9 760.0h2.6M731.4 760.0h-2.6" stroke="#222" stroke-width="0.8"/>
<text x="677.6" y="864.5" font-size="31.0" text-anchor="end"  >30</text>
<path d="M684.9 854.0h2.6M731.4 854.0h-2.6" stroke="#222" stroke-width="0.8"/>
<text x="677.6" y="958.1" font-size="31.0" text-anchor="end"  >20</text>
<path d="M684.9 947.6h2.6M731.4 947.6h-2.6" stroke="#222" stroke-width="0.8"/>
<text x="677.6" y="1051.4" font-size="31.0" text-anchor="end"  >10</text>
<path d="M684.9 1040.9h2.6M731.4 1040.9h-2.6" stroke="#222" stroke-width="0.8"/>
<rect x="462.0" y="684.0" width="279.1" height="469.4" fill="none" stroke="#000" stroke-width="2.4"/>
<text x="454.5" y="694.5" font-size="31.0" text-anchor="end"  >0.7</text>
<text x="455.1" y="1163.9" font-size="31.0" text-anchor="end"  >0</text>
<text x="462.3" y="1187.6" font-size="31.0" text-anchor="middle"  >0</text>
<text x="741.3" y="1187.6" font-size="31.0" text-anchor="middle"  >1</text>
<g transform="translate(367.5 653.0)" fill="none" stroke="#000" stroke-linecap="round" stroke-linejoin="round"><path d="M234.3 546.0L235.0 549.0" stroke-width="1.3"/><path d="M235.0 549.2C237 549.0 239 549.3 240.6 549.8L240.2 550.9" stroke-width="1.7"/><path d="M237.4 549.6C232.5 549.8 228.6 552.2 228.7 555.6C228.8 558.6 232.5 559.9 238.0 559.4" stroke-width="2.1"/><path d="M234.0 560.0C229.5 560.8 225.7 563.6 225.8 566.8C226.0 570.2 231.5 571.3 235.6 572.8C238.6 574.0 238.9 576.4 236.6 577.5C234.8 578.3 232.4 578.0 230.8 577.4" stroke-width="2.1"/></g>
<g transform="translate(367.5 653.0)" fill="none" stroke="#000" stroke-linecap="round" stroke-linejoin="round"><path d="M37.9 264.5L19.6 259.65" stroke-width="2.2"/><path d="M19.6 259.65C15.8 258.6 14.3 260.8 14.8 263.8C15.2 266.3 16.4 268.0 17.8 268.9" stroke-width="1.6"/><path d="M17.4 268.8L30.9 272.6" stroke-width="2.2"/><path d="M17.4 268.8C15.2 269.4 14.4 271.3 15.5 272.9C16.4 274.0 17.8 274.6 19.2 274.9" stroke-width="1.3"/></g>
<path d="M830.5 823H873Q877.4 824 877.6 832V886Q877.6 892 874 893H830.5Z" fill="url(#g12)"/>
<path d="M872.5 823.6Q876.6 824.4 876.6 832V886Q876.6 891.5 873 892.6" stroke="#2626e4" stroke-width="2.4" fill="none"/>
<path d="M830.5 894.2H872.5Q876.6 893.7 877.0 888.2" stroke="#4646d4" stroke-width="1" fill="none"/>
<path d="M830.5 897.2H872.5Q876.6 896.7 877.0 891.2" stroke="#4646d4" stroke-width="1" fill="none"/>
<path d="M830.5 900.2H872.5Q876.6 899.7 877.0 894.2" stroke="#4646d4" stroke-width="1" fill="none"/>
<path d="M830.5 903.4H872.5Q876.6 902.9 877.0 897.4" stroke="#4646d4" stroke-width="1" fill="none"/>
<path d="M830.5 909.6H872.5Q876.6 909.1 877.0 903.6" stroke="#4646d4" stroke-width="1" fill="none"/>
<path d="M877.0 886V904" stroke="#3030e6" stroke-width="1.4" fill="none"/>
<path d="M830 992H873.2L875.2 1153" stroke="#4646d4" stroke-width="1" fill="none"/>
<path d="M830 1069.8H873.8L875.4 1153" stroke="#4646d4" stroke-width="1" fill="none"/>
<path d="M830 1119.8H874.4L875.6 1153" stroke="#4646d4" stroke-width="1" fill="none"/>
<path d="M829.5 815H940L948 813.7H1108.5" stroke="#000" stroke-width="4.00" fill="none" stroke-linejoin="round" stroke-linecap="butt" />
<path d="M829.5 820.0 C841.2 820.3 874.9 821.2 900.0 821.6 C925.1 822.0 954.7 822.2 980.0 822.4 C1005.3 822.6 1030.6 823.0 1052.0 823.0 C1073.4 823.0 1099.1 822.6 1108.5 822.5" stroke="#000" stroke-width="3.60" fill="none" stroke-linejoin="round" stroke-linecap="butt" />
<path d="M877.0 1153.0 C877.8 1152.6 880.1 1151.6 882.0 1150.5 C883.9 1149.4 885.8 1149.3 888.1 1146.6 C890.4 1143.9 893.2 1140.0 895.8 1134.4 C898.3 1128.8 900.6 1121.7 903.4 1113.1 C906.2 1104.5 909.5 1092.8 912.5 1082.6 C915.5 1072.4 918.7 1061.8 921.7 1052.1 C924.8 1042.4 928.4 1031.7 930.8 1024.7 C933.2 1017.7 934.0 1015.7 936.2 1010.0 C938.4 1004.3 940.9 996.9 944.2 990.3 C947.5 983.7 952.2 976.2 956.2 970.2 C960.2 964.2 964.2 958.7 968.2 954.2 C972.2 949.7 976.2 946.6 980.2 943.2 C984.2 939.8 988.2 936.6 992.2 933.8 C996.2 931.0 1000.9 928.3 1004.3 926.2 C1007.6 924.1 1010.0 922.7 1012.3 921.2 C1014.6 919.7 1017.3 917.9 1018.3 917.2 L1052 916.2H1108.5" stroke="#000" stroke-width="4.20" fill="none" stroke-linejoin="round" stroke-linecap="butt" />
<text x="849.3" y="741.0" font-size="31.0" text-anchor="start"  >t</text>
<path d="M864.2 730.6h7M864.2 736.3h7" stroke="#000" stroke-width="2.3"/>
<text x="876.4" y="741.0" font-size="31.0" text-anchor="start"  textLength="53.3" lengthAdjust="spacingAndGlyphs">3.50</text>
<rect x="1052.4" y="707.0" width="46.5" height="425.6" fill="url(#cb)" stroke="#1a1a3a" stroke-width="0.9"/>
<text x="1045.1" y="750.3" font-size="31.0" text-anchor="end"  >35</text>
<path d="M1052.4 739.8h2.6M1098.9 739.8h-2.6" stroke="#222" stroke-width="0.8"/>
<text x="1045.1" y="806.7" font-size="31.0" text-anchor="end"  >30</text>
<path d="M1052.4 796.2h2.6M1098.9 796.2h-2.6" stroke="#222" stroke-width="0.8"/>
<text x="1045.1" y="862.7" font-size="31.0" text-anchor="end"  >25</text>
<path d="M1052.4 852.2h2.6M1098.9 852.2h-2.6" stroke="#222" stroke-width="0.8"/>
<text x="1045.1" y="918.7" font-size="31.0" text-anchor="end"  >20</text>
<path d="M1052.4 908.2h2.6M1098.9 908.2h-2.6" stroke="#222" stroke-width="0.8"/>
<text x="1045.1" y="975.1" font-size="31.0" text-anchor="end"  >15</text>
<path d="M1052.4 964.6h2.6M1098.9 964.6h-2.6" stroke="#222" stroke-width="0.8"/>
<text x="1045.1" y="1031.5" font-size="31.0" text-anchor="end"  >10</text>
<path d="M1052.4 1021.0h2.6M1098.9 1021.0h-2.6" stroke="#222" stroke-width="0.8"/>
<text x="1045.1" y="1087.5" font-size="31.0" text-anchor="end"  >5</text>
<path d="M1052.4 1077.0h2.6M1098.9 1077.0h-2.6" stroke="#222" stroke-width="0.8"/>
<rect x="829.5" y="684.0" width="279.1" height="469.4" fill="none" stroke="#000" stroke-width="2.4"/>
<text x="822.0" y="694.5" font-size="31.0" text-anchor="end"  >0.7</text>
<text x="822.6" y="1163.9" font-size="31.0" text-anchor="end"  >0</text>
<text x="829.8" y="1187.6" font-size="31.0" text-anchor="middle"  >0</text>
<text x="1108.8" y="1187.6" font-size="31.0" text-anchor="middle"  >1</text>
<g transform="translate(735.0 653.0)" fill="none" stroke="#000" stroke-linecap="round" stroke-linejoin="round"><path d="M234.3 546.0L235.0 549.0" stroke-width="1.3"/><path d="M235.0 549.2C237 549.0 239 549.3 240.6 549.8L240.2 550.9" stroke-width="1.7"/><path d="M237.4 549.6C232.5 549.8 228.6 552.2 228.7 555.6C228.8 558.6 232.5 559.9 238.0 559.4" stroke-width="2.1"/><path d="M234.0 560.0C229.5 560.8 225.7 563.6 225.8 566.8C226.0 570.2 231.5 571.3 235.6 572.8C238.6 574.0 238.9 576.4 236.6 577.5C234.8 578.3 232.4 578.0 230.8 577.4" stroke-width="2.1"/></g>
<g transform="translate(735.0 653.0)" fill="none" stroke="#000" stroke-linecap="round" stroke-linejoin="round"><path d="M37.9 264.5L19.6 259.65" stroke-width="2.2"/><path d="M19.6 259.65C15.8 258.6 14.3 260.8 14.8 263.8C15.2 266.3 16.4 268.0 17.8 268.9" stroke-width="1.6"/><path d="M17.4 268.8L30.9 272.6" stroke-width="2.2"/><path d="M17.4 268.8C15.2 269.4 14.4 271.3 15.5 272.9C16.4 274.0 17.8 274.6 19.2 274.9" stroke-width="1.3"/></g>
<text x="1216.8" y="741.0" font-size="31.0" text-anchor="start"  >t</text>
<path d="M1231.7 730.6h7M1231.7 736.3h7" stroke="#000" stroke-width="2.3"/>
<text x="1243.9" y="741.0" font-size="31.0" text-anchor="start"  textLength="53.3" lengthAdjust="spacingAndGlyphs">3.75</text>
<path d="M1198.2 744.5H1240Q1244.2 745.5 1244.4 752V806Q1244.2 811.8 1240 812.8H1198.2Z" fill="url(#g13)"/>
<rect x="1198.6" y="785.8" width="42" height="3.4" fill="#fff"/>
<path d="M1239.5 745.1Q1243.5 745.9 1243.5 752V806Q1243.5 811.6 1239.5 812.3" stroke="#2626e4" stroke-width="2.4" fill="none"/>
<path d="M1197.5 815.6H1244.1L1244.4 1153" stroke="#4646d4" stroke-width="1" fill="none"/>
<path d="M1197.5 893.3H1241.3L1242.9 1153" stroke="#4646d4" stroke-width="1" fill="none"/>
<path d="M1197.5 968.0H1241.6L1243.2 1153" stroke="#4646d4" stroke-width="1" fill="none"/>
<path d="M1197.5 1018.5H1241.9L1243.5 1153" stroke="#4646d4" stroke-width="1" fill="none"/>
<path d="M1197.5 1054.7H1242.2L1243.8 1153" stroke="#4646d4" stroke-width="1" fill="none"/>
<path d="M1197.5 1082.2H1242.5L1244.1 1153" stroke="#4646d4" stroke-width="1" fill="none"/>
<path d="M1197.5 1104.0H1242.8L1244.4 1153" stroke="#4646d4" stroke-width="1" fill="none"/>
<path d="M1197.5 1122.2H1243.0L1244.6 1153" stroke="#4646d4" stroke-width="1" fill="none"/>
<path d="M1197.5 1137.0H1243.2L1244.8 1153" stroke="#4646d4" stroke-width="1" fill="none"/>
<path d="M1197.5 1147.5H1243.4L1245.0 1153" stroke="#4646d4" stroke-width="1" fill="none"/>
<path d="M1248.0 1152.5 C1249.4 1151.6 1253.8 1149.5 1256.4 1147.2 C1259.0 1144.9 1261.2 1143.3 1263.6 1138.7 C1266.0 1134.1 1268.5 1126.7 1270.9 1119.5 C1273.3 1112.3 1274.9 1106.7 1278.1 1095.5 C1281.3 1084.3 1286.1 1065.4 1290.1 1052.2 C1294.1 1039.0 1298.1 1027.4 1302.1 1016.2 C1306.1 1005.0 1310.1 994.2 1314.1 985.0 C1318.1 975.8 1322.1 967.9 1326.1 960.9 C1330.1 953.9 1334.1 948.2 1338.1 942.9 C1342.1 937.6 1346.1 933.1 1350.1 929.0 C1354.1 924.9 1358.2 921.5 1362.2 918.2 C1366.2 914.9 1370.2 912.0 1374.2 909.3 C1378.2 906.6 1382.2 904.2 1386.2 902.1 C1390.2 900.0 1394.2 898.3 1398.2 896.8 C1402.2 895.3 1406.5 894.2 1410.2 893.2 C1413.9 892.2 1415.6 891.8 1420.6 890.8 C1425.6 889.8 1434.3 888.0 1440.0 887.0 C1445.7 886.0 1450.7 885.6 1455.0 885.0 C1459.3 884.4 1464.2 883.8 1466.0 883.6" stroke="#000" stroke-width="4.20" fill="none" stroke-linejoin="round" stroke-linecap="butt" />
<path d="M1466 883.5H1475" stroke="#333" stroke-width="1.80" fill="none" stroke-linejoin="round" stroke-linecap="butt" />
<path d="M1197 736.9H1476.5" stroke="#000" stroke-width="4.20" fill="none" stroke-linejoin="round" stroke-linecap="butt" />
<path d="M1197 742.05H1476.5" stroke="#000" stroke-width="4.50" fill="none" stroke-linejoin="round" stroke-linecap="butt" />
<rect x="1419.9" y="707.0" width="46.5" height="425.6" fill="url(#cb)" stroke="#1a1a3a" stroke-width="0.9"/>
<text x="1412.6" y="828.2" font-size="31.0" text-anchor="end"  >10</text>
<path d="M1419.9 817.7h2.6M1466.4 817.7h-2.6" stroke="#222" stroke-width="0.8"/>
<text x="1412.6" y="962.1" font-size="31.0" text-anchor="end"  >5</text>
<path d="M1419.9 951.6h2.6M1466.4 951.6h-2.6" stroke="#222" stroke-width="0.8"/>
<text x="1412.6" y="1096.0" font-size="31.0" text-anchor="end"  >0</text>
<path d="M1419.9 1085.5h2.6M1466.4 1085.5h-2.6" stroke="#222" stroke-width="0.8"/>
<rect x="1197.0" y="684.0" width="279.1" height="469.4" fill="none" stroke="#000" stroke-width="2.4"/>
<text x="1189.5" y="694.5" font-size="31.0" text-anchor="end"  >0.7</text>
<text x="1190.1" y="1163.9" font-size="31.0" text-anchor="end"  >0</text>
<text x="1197.3" y="1187.6" font-size="31.0" text-anchor="middle"  >0</text>
<text x="1476.3" y="1187.6" font-size="31.0" text-anchor="middle"  >1</text>
<g transform="translate(1102.5 653.0)" fill="none" stroke="#000" stroke-linecap="round" stroke-linejoin="round"><path d="M234.3 546.0L235.0 549.0" stroke-width="1.3"/><path d="M235.0 549.2C237 549.0 239 549.3 240.6 549.8L240.2 550.9" stroke-width="1.7"/><path d="M237.4 549.6C232.5 549.8 228.6 552.2 228.7 555.6C228.8 558.6 232.5 559.9 238.0 559.4" stroke-width="2.1"/><path d="M234.0 560.0C229.5 560.8 225.7 563.6 225.8 566.8C226.0 570.2 231.5 571.3 235.6 572.8C238.6 574.0 238.9 576.4 236.6 577.5C234.8 578.3 232.4 578.0 230.8 577.4" stroke-width="2.1"/></g>
<g transform="translate(1102.5 653.0)" fill="none" stroke="#000" stroke-linecap="round" stroke-linejoin="round"><path d="M37.9 264.5L19.6 259.65" stroke-width="2.2"/><path d="M19.6 259.65C15.8 258.6 14.3 260.8 14.8 263.8C15.2 266.3 16.4 268.0 17.8 268.9" stroke-width="1.6"/><path d="M17.4 268.8L30.9 272.6" stroke-width="2.2"/><path d="M17.4 268.8C15.2 269.4 14.4 271.3 15.5 272.9C16.4 274.0 17.8 274.6 19.2 274.9" stroke-width="1.3"/></g>
</svg>
</body></html>
